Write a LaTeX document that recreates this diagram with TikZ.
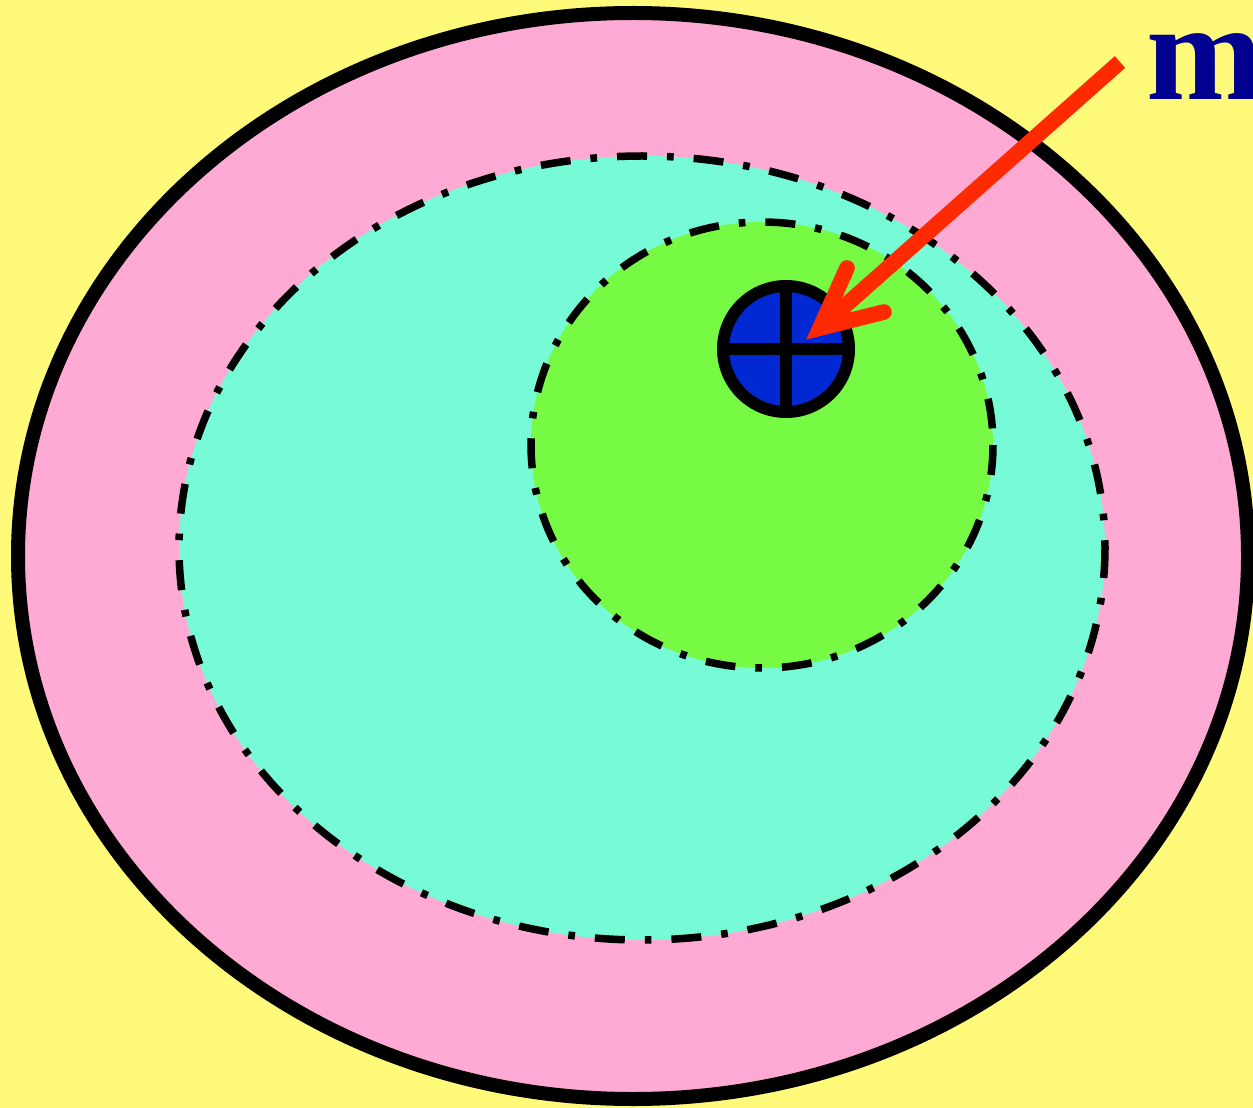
\documentclass[tikz,border=0pt]{standalone}
\usepackage{fontspec}
\setmainfont{Liberation Serif}
\definecolor{bgyellow}{HTML}{FFFA7A}
\definecolor{pinkf}{HTML}{FFAAD4}
\definecolor{cyanf}{HTML}{77FAD6}
\definecolor{greenf}{HTML}{77FA44}
\definecolor{bluef}{HTML}{0029D4}
\definecolor{redar}{HTML}{FF2A00}
\definecolor{darkbl}{HTML}{000090}
\begin{document}
\begin{tikzpicture}[x=0.6pt,y=-0.6pt,
  dashdotline/.style={draw=black,line width=4.5pt,dash pattern=on 18pt off 12pt on 4pt off 12pt},
  arrowline/.style={draw=redar,line width=9.4pt,line cap=round}]
\fill[bgyellow] (0,0) rectangle (1253,1108);
\useasboundingbox (0,0) rectangle (1253,1108);
% outer ellipse
\draw[fill=pinkf,line width=8.4pt] (633,556) ellipse [x radius=615, y radius=543];
% cyan ellipse
\path[fill=cyanf,dashdotline] (642,548) ellipse [x radius=463, y radius=392];
% green circle
\path[fill=greenf,dashdotline] (762,445) ellipse [x radius=231, y radius=223];
% blue circle with cross
\coordinate (c) at (786,349);
\draw[fill=bluef,line width=7.2pt] (c) circle [radius=63];
\draw[line width=7.2pt] (786,286) -- (786,412) (723,349) -- (849,349);
% arrow
\coordinate (tail) at (1120,62);
\coordinate (tip) at (820,328);
\coordinate (b1) at (847,268);
\coordinate (b2) at (884,312);
\draw[arrowline,line cap=butt] (tail) -- (tip);
\draw[arrowline,line join=miter] (b1) -- (tip) -- (b2);
% label
\node[anchor=base west,inner sep=0pt,text=darkbl,font=\bfseries\fontsize{84pt}{84pt}\selectfont] (m) at (1146,100) {m};
\end{tikzpicture}
\end{document}
